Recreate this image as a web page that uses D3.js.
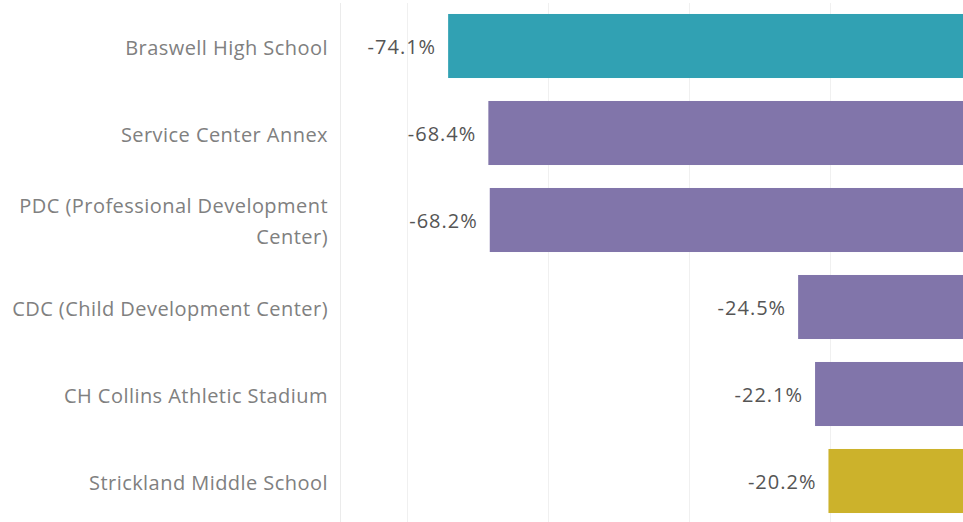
<!DOCTYPE html>
<html>
<head>
<meta charset="utf-8">
<script src="https://cdn.jsdelivr.net/npm/d3@7"></script>
<style>
  body { margin: 0; background: #fff; }
  svg { display: block; }
</style>
</head>
<body>
<script>
// data
var categories = [
  'Braswell High School',
  'Service Center Annex',
  'PDC (Professional Development Center)',
  'CDC (Child Development Center)',
  'CH Collins Athletic Stadium',
  'Strickland Middle School'
];
var values = [ -74.1, -68.4, -68.2, -24.5, -22.1, -20.2 ];
var siteType = [ 'High', 'Other', 'Other', 'Other', 'Other', 'Middle' ];
var gridTicks = [ -80, -60, -40, -20 ];

// label wraps used in the original
var labelLines = {
  'PDC (Professional Development Center)': ['PDC (Professional Development', 'Center)']
};

var w = 963, h = 522;
var font = '"Open Sans", Lato, sans-serif';

var svg = d3.select('body').append('svg')
  .attr('width', w)
  .attr('height', h);

var x = d3.scaleLinear()
  .domain([-80, 0])
  .range([406.5, 971]);

var y = d3.scaleBand()
  .domain(categories)
  .range([2.5, 524.5])
  .paddingInner(0.264)
  .paddingOuter(0.132);

var color = d3.scaleOrdinal()
  .domain(['High', 'Other', 'Middle'])
  .range(['#31a1b3', '#8175aa', '#ccb22b']);

// divider between header and pane
svg.append('line')
  .attr('x1', 340.5).attr('x2', 340.5)
  .attr('y1', 3).attr('y2', h)
  .attr('stroke', '#ebebeb');

// gridlines
svg.selectAll('line.grid')
  .data(gridTicks)
  .enter()
  .append('line')
  .attr('class', 'grid')
  .attr('x1', function (d) { return Math.round(x(d)) + 0.5; })
  .attr('x2', function (d) { return Math.round(x(d)) + 0.5; })
  .attr('y1', 3).attr('y2', h)
  .attr('stroke', '#f0f0f0');

var rows = categories.map(function (c, i) {
  return { name: c, value: values[i], type: siteType[i] };
});

svg.selectAll('rect.bar')
  .data(rows)
  .enter()
  .append('rect')
  .attr('class', 'bar')
  .attr('x', function (d) { return x(d.value); })
  .attr('y', function (d) { return y(d.name); })
  .attr('width', function (d) { return x(0) - x(d.value); })
  .attr('height', y.bandwidth())
  .attr('fill', function (d) { return color(d.type); });

// value labels
svg.selectAll('text.val')
  .data(rows)
  .enter()
  .append('text')
  .attr('class', 'val')
  .attr('x', function (d) { return x(d.value) - 12; })
  .attr('y', function (d) { return y(d.name) + y.bandwidth() / 2 + 0.5; })
  .attr('dy', '0.37em')
  .attr('text-anchor', 'end')
  .style('font-family', font)
  .style('font-size', '20px')
  .style('letter-spacing', '1px')
  .attr('fill', '#555')
  .text(function (d) { return d.value.toFixed(1) + '%'; });

// category labels
var cat = svg.selectAll('text.cat')
  .data(rows)
  .enter()
  .append('text')
  .attr('class', 'cat')
  .attr('text-anchor', 'end')
  .style('font-family', font)
  .style('font-size', '20px')
  .style('letter-spacing', '0.45px')
  .attr('fill', '#808080');

cat.each(function (d) {
  var lines = labelLines[d.name] || [d.name];
  var cy = y(d.name) + y.bandwidth() / 2 + 1.5;
  var lh = 31;
  var top = cy - (lines.length - 1) * lh / 2;
  d3.select(this).selectAll('tspan')
    .data(lines)
    .enter()
    .append('tspan')
    .attr('x', 328)
    .attr('y', function (l, i) { return top + i * lh; })
    .attr('dy', '0.37em')
    .text(function (l) { return l; });
});
</script>
</body>
</html>
